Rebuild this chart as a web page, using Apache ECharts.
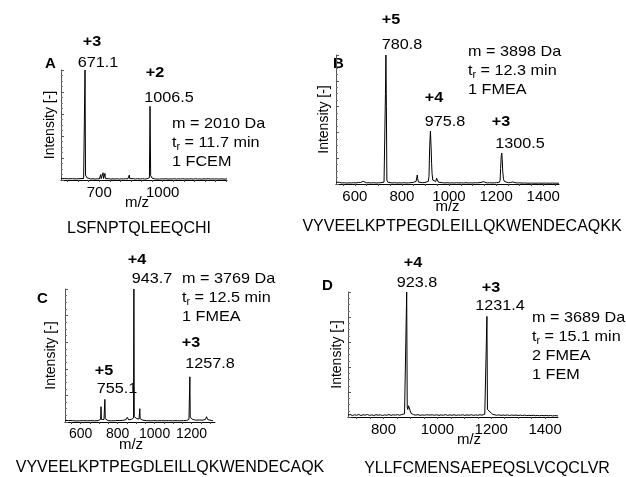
<!DOCTYPE html>
<html><head><meta charset="utf-8">
<script src="https://cdn.jsdelivr.net/npm/echarts@6/dist/echarts.min.js"></script>
<style>html,body{margin:0;padding:0;background:#fff}#c{width:626px;height:477px}</style>
</head><body><div id="c"></div>
<script>
const FONT = "'Liberation Sans', Arial, Helvetica, sans-serif";

// ---------- DATA (m/z, relative intensity) ----------
const spectrumA = [[519,0.012],[528,0.008],[537,0.013],[546,0.007],[555,0.011],[564,0.009],[573,0.012],[582,0.006],[591,0.01],[600,0.008],[609,0.012],[618,0.009],[626,0.014],[630,0.02],[632.6,1.0],[635,0.045],[638,0.03],[642,0.02],[650,0.013],[660,0.009],[670,0.012],[680,0.008],[690,0.011],[700,0.009],[705,0.012],[707,0.05],[709,0.012],[716,0.014],[718,0.066],[720,0.013],[725,0.015],[727,0.06],[729,0.012],[735,0.01],[745,0.012],[755,0.008],[765,0.011],[775,0.009],[785,0.012],[795,0.008],[805,0.011],[815,0.009],[825,0.012],[835,0.01],[840,0.014],[842,0.045],[844,0.012],[850,0.01],[860,0.012],[870,0.009],[880,0.012],[883,0.014],[885,0.028],[887,0.012],[895,0.009],[905,0.012],[915,0.009],[925,0.011],[933,0.013],[937,0.02],[940,0.67],[943,0.04],[946,0.025],[950,0.016],[958,0.012],[966,0.009],[975,0.012],[985,0.008],[995,0.011],[1005,0.009],[1015,0.012],[1025,0.008],[1035,0.01],[1045,0.009],[1055,0.012],[1065,0.008],[1075,0.011],[1085,0.009],[1095,0.012],[1105,0.008],[1115,0.01],[1125,0.009],[1135,0.011],[1145,0.008],[1155,0.012],[1165,0.009],[1175,0.01],[1185,0.008],[1195,0.011],[1205,0.009],[1215,0.012],[1225,0.008],[1235,0.01],[1245,0.009],[1255,0.011],[1265,0.008],[1275,0.01],[1285,0.009],[1295,0.008],[1304,0.01]];

const spectrumB = [[520,0.015],[528,0.01],[536,0.012],[545,0.008],[555,0.01],[565,0.007],[575,0.009],[585,0.008],[595,0.01],[605,0.008],[615,0.012],[620,0.018],[624,0.012],[630,0.015],[636,0.02],[640,0.012],[650,0.009],[660,0.01],[670,0.008],[680,0.01],[690,0.008],[700,0.009],[710,0.01],[718,0.012],[724,0.015],[728,0.03],[730,0.7],[732,1.0],[734,0.6],[736,0.03],[740,0.014],[748,0.01],[758,0.008],[768,0.01],[778,0.008],[788,0.009],[798,0.008],[808,0.01],[818,0.008],[828,0.009],[838,0.01],[848,0.012],[856,0.015],[860,0.02],[863,0.05],[865,0.07],[867,0.04],[870,0.015],[878,0.012],[888,0.01],[898,0.012],[906,0.012],[912,0.02],[915,0.06],[918,0.3],[921,0.41],[924,0.28],[926,0.16],[928,0.08],[931,0.03],[934,0.025],[936,0.03],[939,0.015],[944,0.02],[947,0.045],[949,0.05],[951,0.03],[955,0.014],[962,0.012],[972,0.01],[982,0.008],[992,0.01],[1002,0.008],[1012,0.009],[1022,0.008],[1032,0.01],[1042,0.008],[1052,0.009],[1062,0.008],[1072,0.01],[1082,0.008],[1092,0.009],[1102,0.008],[1112,0.01],[1122,0.009],[1130,0.01],[1136,0.012],[1140,0.02],[1143,0.025],[1146,0.018],[1152,0.01],[1162,0.008],[1172,0.01],[1182,0.008],[1192,0.009],[1202,0.01],[1210,0.012],[1214,0.014],[1217,0.03],[1219,0.12],[1222,0.22],[1224,0.24],[1226,0.19],[1228,0.1],[1231,0.04],[1235,0.02],[1242,0.012],[1252,0.01],[1262,0.012],[1268,0.014],[1271,0.016],[1274,0.015],[1280,0.01],[1290,0.008],[1300,0.009],[1310,0.007],[1320,0.008],[1335,0.006],[1350,0.007],[1365,0.006],[1380,0.007],[1395,0.006],[1410,0.007],[1425,0.006],[1440,0.007],[1455,0.006],[1467,0.006]];

const spectrumC = [[515,0.012],[525,0.008],[535,0.011],[545,0.007],[555,0.01],[565,0.012],[575,0.008],[585,0.011],[595,0.009],[605,0.013],[615,0.01],[625,0.012],[635,0.009],[645,0.014],[655,0.01],[665,0.012],[675,0.009],[685,0.013],[695,0.011],[705,0.014],[708,0.02],[710,0.115],[712,0.02],[718,0.015],[726,0.018],[729,0.025],[731,0.17],[733,0.025],[738,0.014],[748,0.01],[758,0.012],[768,0.009],[778,0.012],[788,0.01],[798,0.013],[808,0.011],[818,0.014],[828,0.012],[838,0.015],[846,0.018],[850,0.02],[852,0.035],[854,0.02],[860,0.016],[868,0.018],[875,0.02],[882,0.025],[886,0.03],[888,1.0],[890,0.04],[894,0.03],[898,0.035],[904,0.025],[910,0.02],[916,0.022],[918,0.03],[920,0.1],[922,0.025],[928,0.018],[936,0.014],[946,0.012],[956,0.01],[966,0.013],[976,0.009],[986,0.012],[996,0.01],[1006,0.013],[1016,0.009],[1026,0.012],[1036,0.01],[1046,0.013],[1056,0.009],[1066,0.012],[1076,0.01],[1086,0.013],[1096,0.009],[1106,0.012],[1116,0.01],[1126,0.013],[1136,0.009],[1146,0.012],[1156,0.01],[1166,0.013],[1174,0.011],[1180,0.012],[1186,0.02],[1189,0.03],[1191,0.34],[1193,0.035],[1197,0.025],[1202,0.03],[1206,0.02],[1212,0.025],[1216,0.018],[1222,0.014],[1232,0.012],[1242,0.015],[1252,0.012],[1262,0.014],[1270,0.016],[1276,0.02],[1279,0.03],[1281,0.04],[1283,0.025],[1288,0.018],[1296,0.014],[1306,0.012],[1316,0.01]];

const spectrumD = [[668,0.015],[676,0.02],[684,0.012],[692,0.018],[700,0.014],[708,0.02],[716,0.012],[724,0.018],[732,0.015],[740,0.02],[748,0.013],[756,0.017],[764,0.012],[772,0.019],[780,0.014],[788,0.018],[796,0.012],[804,0.017],[812,0.014],[820,0.02],[828,0.013],[836,0.018],[844,0.015],[852,0.019],[860,0.014],[868,0.02],[874,0.018],[878,0.025],[882,0.03],[884,0.04],[886,1.0],[888,0.08],[890,0.06],[893,0.09],[896,0.085],[899,0.05],[902,0.03],[906,0.022],[912,0.018],[920,0.015],[928,0.019],[936,0.013],[944,0.017],[952,0.014],[960,0.018],[968,0.016],[971,0.022],[974,0.013],[982,0.017],[990,0.014],[998,0.018],[1006,0.013],[1014,0.017],[1022,0.014],[1030,0.019],[1038,0.013],[1046,0.017],[1054,0.014],[1062,0.018],[1070,0.013],[1078,0.017],[1086,0.014],[1094,0.018],[1102,0.013],[1110,0.017],[1118,0.014],[1126,0.018],[1134,0.013],[1142,0.017],[1150,0.014],[1158,0.018],[1166,0.015],[1172,0.02],[1176,0.022],[1180,0.03],[1182,0.035],[1184,0.805],[1186,0.06],[1189,0.07],[1192,0.065],[1196,0.04],[1200,0.03],[1205,0.022],[1212,0.018],[1220,0.014],[1228,0.017],[1236,0.013],[1244,0.016],[1252,0.013],[1260,0.017],[1268,0.012],[1276,0.016],[1284,0.013],[1292,0.016],[1300,0.012],[1308,0.015],[1316,0.012],[1324,0.015],[1332,0.011],[1340,0.014],[1348,0.011],[1356,0.014],[1364,0.011],[1372,0.013],[1380,0.01],[1388,0.013],[1396,0.01],[1404,0.012],[1412,0.01],[1420,0.012],[1428,0.009],[1436,0.011],[1448,0.009]];

// tick labels
const ticksA = [700, 1000];
const ticksB = [600, 800, 1000, 1200, 1400];
const ticksC = [600, 800, 1000, 1200];
const ticksD = [800, 1000, 1200, 1400];

// peak annotations: [charge, m/z]
const peaksA = [['+3','671.1'],['+2','1006.5']];
const peaksB = [['+5','780.8'],['+4','975.8'],['+3','1300.5']];
const peaksC = [['+4','943.7'],['+3','1257.8'],['+5','755.1']];
const peaksD = [['+4','923.8'],['+3','1231.4']];

// info texts: mass, retention time, modifications
const infoA = ['m = 2010 Da', '11.7', ['1 FCEM']];
const infoB = ['m = 3898 Da', '12.3', ['1 FMEA']];
const infoC = ['m = 3769 Da', '12.5', ['1 FMEA']];
const infoD = ['m = 3689 Da', '15.1', ['2 FMEA', '1 FEM']];

const sequences = ['LSFNPTQLEEQCHI', 'VYVEELKPTPEGDLEILLQKWENDECAQKK', 'VYVEELKPTPEGDLEILLQKWENDECAQK', 'YLLFCMENSAEPEQSLVCQCLVR'];
const letters = ['A','B','C','D'];

// ---------- LAYOUT ----------
const panels = [
  {data: spectrumA, ticks: ticksA, peaks: peaksA, info: infoA, range: [519,1304],
   grid: {left:61, top:70, width:166, height:110},
   letter: [45,63.5], peakPos: [[92,42,98,62.5],[155,73,169,97.5]], infoPos: [172,124],
   mzShift: -7, yGap: 4, seq: [139,228.5], tickFS: 15},
  {data: spectrumB, ticks: ticksB, peaks: peaksB, info: infoB, range: [520,1467],
   grid: {left:336, top:55, width:223, height:129},
   letter: [333,63.5], peakPos: [[391,20,402,45],[434,97.5,445,122],[501,121.5,520,144]], infoPos: [468,51.7],
   mzShift: 0, yGap: 5, seq: [462,227], tickFS: 15},
  {data: spectrumC, ticks: ticksC, peaks: peaksC, info: infoC, range: [515,1327],
   grid: {left:65, top:289, width:150, height:133},
   letter: [37,299], peakPos: [[137,260,152,279],[191,343,210,364],[104,371,117,389]], infoPos: [182,279],
   mzShift: -9, yGap: 7, seq: [170,467.5], tickFS: 14},
  {data: spectrumD, ticks: ticksD, peaks: peaksD, info: infoD, range: [668,1448],
   grid: {left:348, top:292, width:210, height:125},
   letter: [322,286], peakPos: [[413,263,417,282.5],[491,287.5,500,306]], infoPos: [532,318],
   mzShift: 16, yGap: 4, seq: [487,469], tickFS: 15}
];

const FS = 15, LH = 19, SX = 1.08;
const grids = [], xAxes = [], yAxes = [], series = [], graphics = [];

function txt(x, y, text, extra, sx) {
  graphics.push({type:'text', x, y, scaleX: sx || 1, silent:true,
    style: Object.assign({text, fill:'#000', fontFamily: FONT, fontSize: FS, textAlign:'center', textVerticalAlign:'middle'}, extra || {})});
}

panels.forEach((p, i) => {
  grids.push(Object.assign({outerBoundsMode:'none', containLabel:false}, p.grid));
  const minorTicks = [];
  for (let v = Math.ceil(p.range[0]/50)*50; v <= p.range[1]; v += 50) minorTicks.push(v);
  xAxes.push({
    type:'value', gridIndex:i, min:p.range[0], max:p.range[1],
    name:'m/z', nameLocation:'middle', nameGap:15, nameMoveOverlap:false,
    nameTextStyle:{fontFamily:FONT, fontSize:FS, color:'#000',
      padding: p.mzShift < 0 ? [0, -2*p.mzShift, 0, 0] : [0, 0, 0, 2*p.mzShift]},
    axisLine:{show:true, onZero:false, lineStyle:{color:'#000', width:1}},
    axisTick:{show:true, inside:false, length:2, customValues:minorTicks, lineStyle:{color:'#444'}},
    axisLabel:{show:true, customValues:p.ticks, interval:0, margin:5, fontFamily:FONT, fontSize:p.tickFS, color:'#000',
      hideOverlap:false, showMinLabel:true, showMaxLabel:true, formatter: v => String(v)},
    splitLine:{show:false}
  });
  yAxes.push({
    type:'value', gridIndex:i, min:0, max:1, interval:0.2,
    name:'Intensity [-]', nameLocation:'middle', nameGap:p.yGap, nameMoveOverlap:false,
    nameTextStyle:{fontFamily:FONT, fontSize:14, color:'#000'},
    axisLine:{show:true, onZero:false, lineStyle:{color:'#555', width:1}},
    axisTick:{show:true, inside:true, length:3, lineStyle:{color:'#555'}},
    minorTick:{show:true, splitNumber:4, length:2, lineStyle:{color:'#777'}},
    axisLabel:{show:false}, splitLine:{show:false}
  });
  series.push({type:'line', xAxisIndex:i, yAxisIndex:i, data:p.data, showSymbol:false, symbol:'none',
    lineStyle:{color:'#000', width:1}, silent:true, animation:false, z:3});

  // panel letter
  txt(p.letter[0], p.letter[1], letters[i], {textAlign:'left', fontWeight:'bold'});
  // peak labels
  p.peaks.forEach((pk, j) => {
    const pos = p.peakPos[j];
    txt(pos[0], pos[1], pk[0], {fontWeight:'bold'}, SX);
    txt(pos[2], pos[3], pk[1], null, SX);
  });
  // info block
  let rt = '{n|' + p.info[0] + '}\n{n|t}{s|r}{n| = ' + p.info[1] + ' min}';
  p.info[2].forEach(s => { rt += '\n{n|' + s + '}'; });
  graphics.push({type:'text', x:p.infoPos[0], y:p.infoPos[1] - LH/2, scaleX:SX, silent:true,
    style:{text:rt, fill:'#000', textAlign:'left', textVerticalAlign:'top',
      rich:{n:{fontFamily:FONT, fontSize:FS, lineHeight:LH, fill:'#000'},
            s:{fontFamily:FONT, fontSize:10, lineHeight:10, verticalAlign:'bottom', fill:'#000'}}}});
  // sequence
  txt(p.seq[0], p.seq[1], sequences[i], {fontSize:16});
});

const chart = echarts.init(document.getElementById('c'), null, {renderer:'canvas'});
chart.setOption({
  animation:false, backgroundColor:'#fff',
  grid:grids, xAxis:xAxes, yAxis:yAxes, series:series, graphic:graphics
});
</script></body></html>
